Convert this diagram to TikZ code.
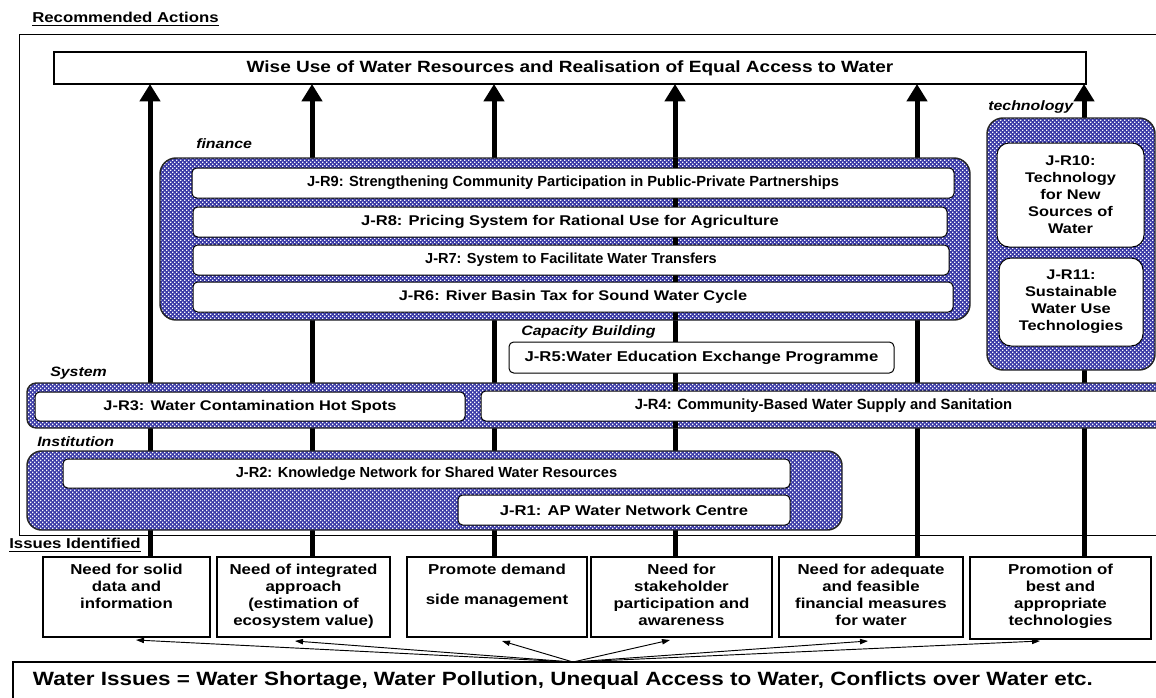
\documentclass[tikz,border=0pt]{standalone}
\usepackage{fontspec}
\setmainfont{Liberation Sans}[FakeStretch=1.17]
\newfontfamily\plainsans{Liberation Sans}
\usetikzlibrary{arrows.meta,patterns,calc}
\definecolor{panelblue}{RGB}{55,55,165}
\newcommand\fsz[2]{\fontsize{#1}{#2}\selectfont\bfseries}
\newcommand\nsz[2]{\plainsans\fontsize{#1}{#2}\selectfont\bfseries}
% white lattice of small squares on the blue group panels
\pgfdeclarepatternformonly{lattice}{\pgfqpoint{-0.1pt}{-0.1pt}}{\pgfqpoint{3.1pt}{3.1pt}}{\pgfqpoint{3pt}{3pt}}{%
  \pgfpathrectangle{\pgfqpoint{0pt}{0pt}}{\pgfqpoint{1.05pt}{1.05pt}}%
  \pgfpathrectangle{\pgfqpoint{1.5pt}{1.5pt}}{\pgfqpoint{1.05pt}{1.05pt}}%
  \pgfusepath{fill}}
\tikzset{
  span/.style args={#1/#2/#3/#4}{at={({(#1+#3)/2},{(#2+#4)/2})},
    minimum width={(#3-#1)*0.75pt}, minimum height={(#4-#2)*0.75pt},
    inner sep=0pt, outer sep=0pt},
  plainbox/.style={draw, line width=0.8pt, fill=white, align=center},
  jrbox/.style={draw, line width=0.75pt, fill=white, rounded corners=3.5pt, align=center},
  panel/.style={draw=black!85, line width=1.1pt, preaction={fill=panelblue},
    pattern=lattice, pattern color=white},
  catlabel/.style={font=\fsz{10.2pt}{12pt}\itshape, anchor=west, inner sep=0pt},
  heading/.style={font=\fsz{10.75pt}{12pt}, anchor=west, inner sep=0pt},
  issuetext/.style={font=\fsz{10.8pt}{12.6pt}, align=center, anchor=north, inner sep=0pt},
  shaft/.style={line width=3.75pt},
  bigarrow/.style={shaft, -{Triangle[length=13pt, width=15pt]}},
  fanarrow/.style={line width=0.7pt, -{Triangle[length=6pt, width=4pt]}},
}
\begin{document}
\begin{tikzpicture}[x=0.75pt, y=-0.75pt]
\clip (0,0) rectangle (1156,697);

% headings and outer frame
\node[heading] (hdactions) at (32,19) {\underline{Recommended Actions}};
\node[draw, line width=0.75pt, span=19/34/1185/535] (frame) {};
\node[heading, fill=white, inner ysep=1pt] (hdissues) at (9,545) {\underline{Issues Identified}};

% goal
\node[plainbox, span=54/52/1086/84, font=\fsz{12.2pt}{14pt}] (goal)
  {Wise Use of Water Resources and Realisation of Equal Access to Water};

% arrow columns
\foreach \n/\x in {1/150,2/312,3/494,4/675,5/917,6/1084}
  \coordinate (c\n) at (\x,0);

% issue boxes
\node[plainbox, span=43/557/210/637] (i1) {};
\node[plainbox, span=217/557/390/637] (i2) {};
\node[plainbox, span=407/557/587/637] (i3) {};
\node[plainbox, span=591/557/772/637] (i4) {};
\node[plainbox, span=779/557/963/637] (i5) {};
\node[plainbox, span=970/557/1151/639] (i6) {};
\node[issuetext] at ($(i1.north)+(0,7)$) {Need for solid\\data and\\information};
\node[issuetext] at ($(i2.north)+(0,7)$) {Need of integrated\\approach\\(estimation of\\ecosystem value)};
\node[issuetext] at ($(i3.north)+(0,7)$) {Promote demand\\[10pt]side management};
\node[issuetext] at ($(i4.north)+(0,7)$) {Need for\\stakeholder\\participation and\\awareness};
\node[issuetext] at ($(i5.north)+(0,7)$) {Need for adequate\\and feasible\\financial measures\\for water};
\node[issuetext] at ($(i6.north)+(0,7)$) {Promotion of\\best and\\appropriate\\technologies};

% upward arrows from issues to goal
\foreach \n in {1,...,6}
  \draw[bigarrow] (c\n |- i\n.north) -- (c\n |- goal.south);

% patterned groups
\node[panel, rounded corners=12pt, span=160/158/970/320] (finpanel) {};
\node[panel, rounded corners=12pt, span=987/118/1155/370] (techpanel) {};
\node[panel, rounded corners=7pt, span=27/383/1180/428] (syspanel) {};
\node[panel, rounded corners=11pt, span=27/451/842/530] (instpanel) {};

\node[catlabel] (lbfin) at (196,144) {finance};
\node[catlabel] (lbtech) at (988,107) {technology};
\node[catlabel] (lbcap) at (521,332) {Capacity Building};
\node[catlabel] (lbsys) at (50,373) {System};
\node[catlabel] (lbinst) at (37,442) {Institution};

% column 4 shows through the finance and system groups
\draw[shaft] (c4 |- finpanel.north) -- (c4 |- finpanel.south);
\draw[shaft] (c4 |- syspanel.north) -- (c4 |- syspanel.south);

% finance
\node[jrbox, span=192/168/954/198, font=\nsz{11pt}{12pt}] (r9) {J-R9: Strengthening Community Participation in Public-Private Partnerships};
\node[jrbox, span=193/207/947/237, font=\fsz{10.6pt}{12pt}] (r8) {J-R8: Pricing System for Rational Use for Agriculture};
\node[jrbox, span=193/245/949/275, font=\nsz{10.9pt}{12pt}] (r7) {J-R7: System to Facilitate Water Transfers};
\node[jrbox, span=193/282/953/312, font=\fsz{10.5pt}{12pt}] (r6) {J-R6: River Basin Tax for Sound Water Cycle};

% technology
\node[jrbox, rounded corners=9pt, span=997/143/1144/247, font=\fsz{10.5pt}{12.8pt}] (r10)
  {J-R10:\\Technology\\for New\\Sources of\\Water};
\node[jrbox, rounded corners=9pt, span=999/258/1143/346, font=\fsz{10.5pt}{12.8pt}] (r11)
  {J-R11:\\Sustainable\\Water Use\\Technologies};

% capacity building
\node[jrbox, span=509/342/894/373, font=\fsz{10.7pt}{12pt}] (r5) {J-R5:Water Education Exchange Programme};

% system
\node[jrbox, span=35/392/465/421, font=\fsz{10.5pt}{12pt}] (r3) {J-R3: Water Contamination Hot Spots};
\node[jrbox, span=481/391/1166/421, font=\nsz{11.1pt}{12pt}] (r4) {J-R4: Community-Based Water Supply and Sanitation};

% institution
\node[jrbox, span=63/459/790/488, font=\nsz{10.95pt}{12pt}] (r2) {J-R2: Knowledge Network for Shared Water Resources};
\node[jrbox, span=458/495/790/525, font=\fsz{10.65pt}{12pt}] (r1) {J-R1: AP Water Network Centre};

% water issues
\node[draw, line width=0.8pt, fill=white, span=13/662/1185/720] (issues) {};
\node[font=\fsz{14.4pt}{16pt}, inner sep=0pt] (issuestext) at (563,681)
  {Water Issues = Water Shortage, Water Pollution, Unequal Access to Water, Conflicts over Water etc.};
\coordinate (hub) at (573,662);
\draw[fanarrow] (hub) -- ($(i1.south)+(9.5,3)$);
\draw[fanarrow] (hub) -- ($(i2.south)+(-8.5,4)$);
\draw[fanarrow] (hub) -- ($(i3.south)+(5,4)$);
\draw[fanarrow] (hub) -- ($(i4.south)+(-11.5,3)$);
\draw[fanarrow] (hub) -- ($(i5.south)+(-3,4)$);
\draw[fanarrow] (hub) -- ($(i6.south)+(-20.5,2)$);
\end{tikzpicture}
\end{document}
